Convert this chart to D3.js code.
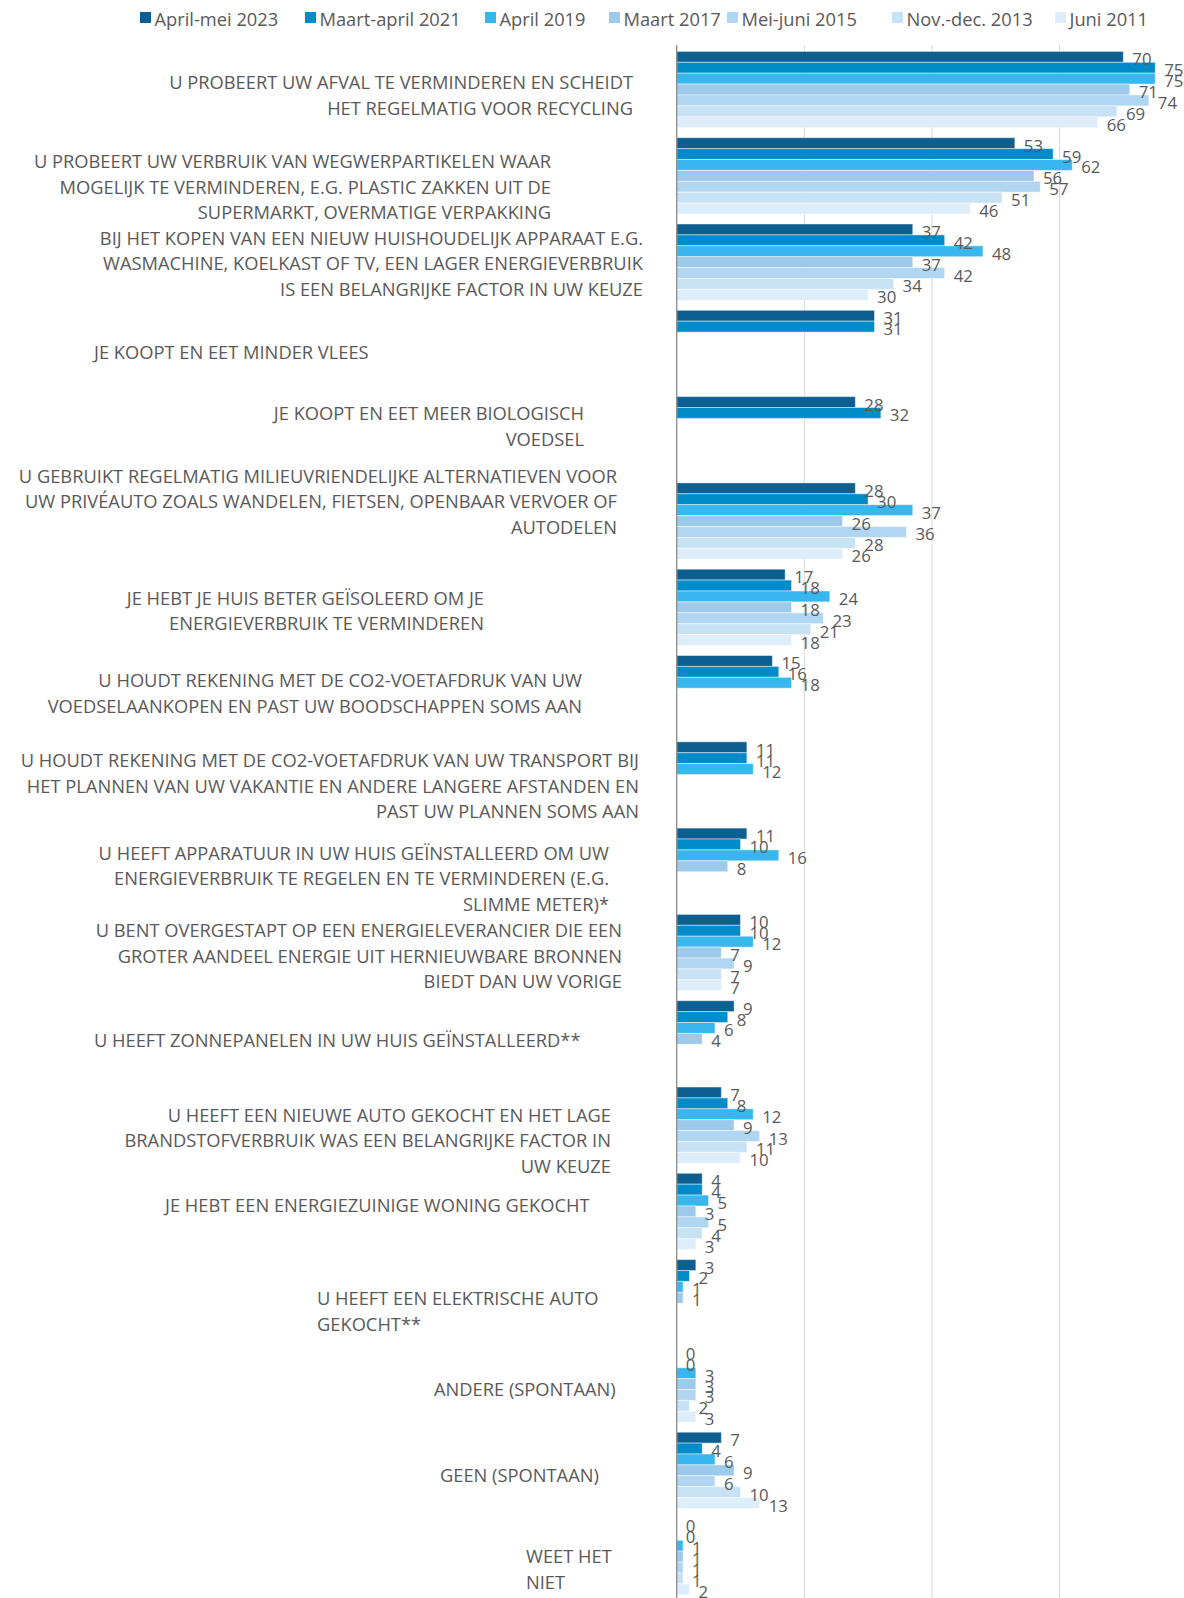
<!DOCTYPE html>
<html>
<head>
<meta charset="utf-8">
<script src="https://cdn.jsdelivr.net/npm/d3@7"></script>
<style>
    html, body { margin: 0; padding: 0; background: #fff; }
    svg { display: block; font-family: "Open Sans", "Noto Sans", sans-serif; }
</style>
</head>
<body>
<div id="chart"></div>
<script>
// categories, one entry per group, lines as they wrap in the original
const categories = [
    ["U PROBEERT UW AFVAL TE VERMINDEREN EN SCHEIDT", "HET REGELMATIG VOOR RECYCLING"],
    ["U PROBEERT UW VERBRUIK VAN WEGWERPARTIKELEN WAAR", "MOGELIJK TE VERMINDEREN, E.G. PLASTIC ZAKKEN UIT DE", "SUPERMARKT, OVERMATIGE VERPAKKING"],
    ["BIJ HET KOPEN VAN EEN NIEUW HUISHOUDELIJK APPARAAT E.G.", "WASMACHINE, KOELKAST OF TV, EEN LAGER ENERGIEVERBRUIK", "IS EEN BELANGRIJKE FACTOR IN UW KEUZE"],
    ["JE KOOPT EN EET MINDER VLEES"],
    ["JE KOOPT EN EET MEER BIOLOGISCH", "VOEDSEL"],
    ["U GEBRUIKT REGELMATIG MILIEUVRIENDELIJKE ALTERNATIEVEN VOOR", "UW PRIVÉAUTO ZOALS WANDELEN, FIETSEN, OPENBAAR VERVOER OF", "AUTODELEN"],
    ["JE HEBT JE HUIS BETER GEÏSOLEERD OM JE", "ENERGIEVERBRUIK TE VERMINDEREN"],
    ["U HOUDT REKENING MET DE CO2-VOETAFDRUK VAN UW", "VOEDSELAANKOPEN EN PAST UW BOODSCHAPPEN SOMS AAN"],
    ["U HOUDT REKENING MET DE CO2-VOETAFDRUK VAN UW TRANSPORT BIJ", "HET PLANNEN VAN UW VAKANTIE EN ANDERE LANGERE AFSTANDEN EN", "PAST UW PLANNEN SOMS AAN"],
    ["U HEEFT APPARATUUR IN UW HUIS GEÏNSTALLEERD OM UW", "ENERGIEVERBRUIK TE REGELEN EN TE VERMINDEREN (E.G.", "SLIMME METER)*"],
    ["U BENT OVERGESTAPT OP EEN ENERGIELEVERANCIER DIE EEN", "GROTER AANDEEL ENERGIE UIT HERNIEUWBARE BRONNEN", "BIEDT DAN UW VORIGE"],
    ["U HEEFT ZONNEPANELEN IN UW HUIS GEÏNSTALLEERD**"],
    ["U HEEFT EEN NIEUWE AUTO GEKOCHT EN HET LAGE", "BRANDSTOFVERBRUIK WAS EEN BELANGRIJKE FACTOR IN", "UW KEUZE"],
    ["JE HEBT EEN ENERGIEZUINIGE WONING GEKOCHT"],
    ["U HEEFT EEN ELEKTRISCHE AUTO", "GEKOCHT**"],
    ["ANDERE (SPONTAAN)"],
    ["GEEN (SPONTAAN)"],
    ["WEET HET", "NIET"]
];

const seriesNames = ["April-mei 2023", "Maart-april 2021", "April 2019", "Maart 2017", "Mei-juni 2015", "Nov.-dec. 2013", "Juni 2011"];

// values in %, null = not asked that year
const values2023 = [70, 53, 37, 31, 28, 28, 17, 15, 11, 11, 10, 9, 7, 4, 3, 0, 7, 0];
const values2021 = [75, 59, 42, 31, 32, 30, 18, 16, 11, 10, 10, 8, 8, 4, 2, 0, 4, 0];
const values2019 = [75, 62, 48, null, null, 37, 24, 18, 12, 16, 12, 6, 12, 5, 1, 3, 6, 1];
const values2017 = [71, 56, 37, null, null, 26, 18, null, null, 8, 7, 4, 9, 3, 1, 3, 9, 1];
const values2015 = [74, 57, 42, null, null, 36, 23, null, null, null, 9, null, 13, 5, null, 3, 6, 1];
const values2013 = [69, 51, 34, null, null, 28, 21, null, null, null, 7, null, 11, 4, null, 2, 10, 1];
const values2011 = [66, 46, 30, null, null, 26, 18, null, null, null, 7, null, 10, 3, null, 3, 13, 2];

const xTicks = [20, 40, 60];

const allValues = [values2023, values2021, values2019, values2017, values2015, values2013, values2011];
const colours = ["#0c5f90", "#008bcb", "#37b7ee", "#9dcaeb", "#b0d6f1", "#c8e2f5", "#ddedf9"];

// label placement of the original (anchor x, alignment, first line offset from group centre)
const labelX = [633, 551, 643, 94, 584, 617, 484, 582, 639, 609, 622, 94, 611, 165, 317, 434, 440, 526];
const labelAlign = ["end", "end", "end", "start", "end", "end", "end", "end", "end", "end", "end", "start", "end", "start", "start", "start", "start", "start"];
const labelDy = [-8, -15, -25, 3, -22, -46, -10, -14, -20, -14, -23, 1, -11, -7, 0, 4, 4, -1];
const legendX = [140, 305, 485, 609, 727, 892, 1055];

const width = 1184,
    height = 1598,
    lineHeight = 25.5,
    textColour = "#595959";

const svg = d3.select("#chart").append("svg")
    .attr("width", width)
    .attr("height", height)
    .attr("viewBox", `0 0 ${width} ${height}`);

const x = d3.scaleLinear()
        .domain([0, 80])
        .range([676.7, 676.7 + 80 * 6.38]),
    y = d3.scaleBand()
        .domain(d3.range(categories.length))
        .range([46.4, 46.4 + 86.3 * categories.length])
        .paddingInner(0.116)
        .paddingOuter(0.058),
    ySeries = d3.scaleBand()
        .domain(d3.range(seriesNames.length))
        .range([0, y.bandwidth()]);

// gridlines
svg.append("g")
    .attr("class", "grid")
    .selectAll("line")
    .data(xTicks)
    .enter()
    .append("line")
    .attr("x1", d => x(d))
    .attr("x2", d => x(d))
    .attr("y1", 45)
    .attr("y2", height)
    .attr("stroke", "#d9d9d9")
    .attr("stroke-width", 1);

// bars
const groups = svg.append("g")
    .attr("class", "bars")
    .selectAll("g")
    .data(categories)
    .enter()
    .append("g")
    .attr("transform", (d, i) => "translate(0," + y(i) + ")");

const barData = (d, i) => allValues
    .map((s, j) => ({ value: s[i], series: j }))
    .filter(b => b.value !== null);

groups.selectAll("rect")
    .data(barData)
    .enter()
    .append("rect")
    .attr("x", x(0))
    .attr("y", d => ySeries(d.series))
    .attr("width", d => x(d.value) - x(0))
    .attr("height", ySeries.bandwidth())
    .attr("fill", d => colours[d.series])
    .attr("stroke", "rgba(255, 255, 255, 0.45)")
    .attr("stroke-width", 1);

groups.selectAll("text")
    .data(barData)
    .enter()
    .append("text")
    .attr("x", d => x(d.value) + 9)
    .attr("y", d => ySeries(d.series) + ySeries.bandwidth() / 2 + 2)
    .attr("dominant-baseline", "central")
    .attr("font-size", "16.8px")
    .attr("fill", textColour)
    .text(d => d.value);

// value axis line
svg.append("line")
    .attr("x1", x(0))
    .attr("x2", x(0))
    .attr("y1", 45)
    .attr("y2", height)
    .attr("stroke", "#8a8a8a")
    .attr("stroke-width", 1.3);

// category labels
const labels = svg.append("g")
    .attr("class", "labels")
    .selectAll("text")
    .data(categories)
    .enter()
    .append("text")
    .attr("text-anchor", (d, i) => labelAlign[i])
    .attr("font-size", "18.3px")
    .attr("fill", textColour);

labels.selectAll("tspan")
    .data((d, i) => d.map((line, k) => ({ line: line, k: k, i: i })))
    .enter()
    .append("tspan")
    .attr("x", d => labelX[d.i])
    .attr("y", d => y(d.i) + y.bandwidth() / 2 + labelDy[d.i] + d.k * lineHeight)
    .attr("dominant-baseline", "central")
    .text(d => d.line);

// legend
const legend = svg.append("g")
    .attr("class", "legend")
    .selectAll("g")
    .data(seriesNames)
    .enter()
    .append("g")
    .attr("transform", (d, i) => "translate(" + legendX[i] + ",0)");

legend.append("rect")
    .attr("x", 0)
    .attr("y", 12)
    .attr("width", 11)
    .attr("height", 11)
    .attr("fill", (d, i) => colours[i]);

legend.append("text")
    .attr("x", 14.5)
    .attr("y", 18)
    .attr("dominant-baseline", "central")
    .attr("font-size", "18.3px")
    .attr("fill", textColour)
    .text(d => d);
</script>
</body>
</html>
